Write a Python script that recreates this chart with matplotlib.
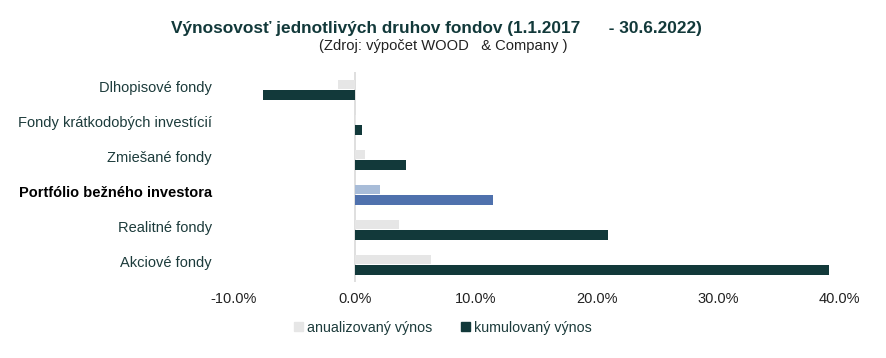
import numpy as np
import matplotlib.pyplot as plt
from matplotlib.ticker import FuncFormatter
from matplotlib.patches import Patch

plt.rcParams['font.family'] = ['Liberation Sans', 'DejaVu Sans']

categories = ['Dlhopisové fondy', 'Fondy krátkodobých investícií', 'Zmiešané fondy',
              'Portfólio bežného investora', 'Realitné fondy', 'Akciové fondy']
annual = [-1.4, 0.05, 0.8, 2.1, 3.6, 6.3]
cumulative = [-7.6, 0.6, 4.2, 11.4, 20.9, 39.2]
xticks = [-10, 0, 10, 20, 30, 40]

dark = '#12393a'
light = '#e6e6e6'
hl_light = '#a8bcd8'
hl_dark = '#4f71ad'
hl = 3  # highlighted category

fig = plt.figure(figsize=(8.86, 3.58), dpi=100)
ax = fig.add_axes([234 / 886, 1 - 282 / 358, (839 - 234) / 886, 210 / 358])

y = np.arange(len(categories))
c_annual = [hl_light if i == hl else light for i in range(len(categories))]
c_cum = [hl_dark if i == hl else dark for i in range(len(categories))]
ax.barh(y - 0.14, annual, height=0.24, color=c_annual)
ax.barh(y + 0.15, cumulative, height=0.29, color=c_cum)

ax.set_xlim(-10, 40)
ax.set_ylim(len(categories) - 0.5, -0.5)
ax.set_xticks(xticks)
ax.xaxis.set_major_formatter(FuncFormatter(lambda v, p: f'{v:.1f}%'))
# labels sit a little above the centre of each bar pair
ax.set_yticks(y - 0.08)
ax.set_yticklabels(categories)
ax.tick_params(axis='both', length=0, labelsize=10.5)
ax.tick_params(axis='y', pad=16, labelcolor='#1c3b3b')
ax.tick_params(axis='x', pad=7, labelcolor='#222222')
for i, lab in enumerate(ax.get_yticklabels()):
    if i == hl:
        lab.set_fontweight('bold')
        lab.set_color('black')
for s in ax.spines.values():
    s.set_visible(False)
ax.axvline(0, color='#d9d9d9', lw=1.2, zorder=0)

fig.text(436 / 886, 1 - 28 / 358,
         'Výnosovosť jednotlivých druhov fondov (1.1.2017      - 30.6.2022)',
         ha='center', va='center', fontsize=12.4, fontweight='bold', color=dark)
fig.text(443 / 886, 1 - 46 / 358, '(Zdroj: výpočet WOOD   & Company )',
         ha='center', va='center', fontsize=10.6, color='#222222')

handles = [Patch(color=light), Patch(color=dark)]
fig.legend(handles, ['anualizovaný výnos', 'kumulovaný výnos'], ncol=2,
           loc='center', bbox_to_anchor=(443 / 886, 1 - 328 / 358), frameon=False,
           fontsize=10.3, handlelength=0.6, handleheight=0.6, handletextpad=0.3,
           columnspacing=2.0, labelcolor='#1c3b3b')

fig.savefig('out.png', dpi=100)
